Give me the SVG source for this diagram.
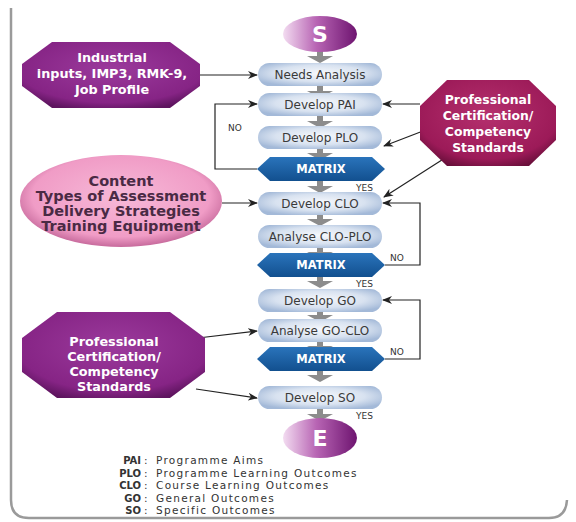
<svg xmlns="http://www.w3.org/2000/svg" width="576" height="522" viewBox="0 0 576 522">
<defs>
<linearGradient id="gTerm" x1="0" y1="0" x2="1" y2="0">
<stop offset="0" stop-color="#f3dcf1"/><stop offset="0.45" stop-color="#b865b4"/><stop offset="1" stop-color="#6e1470"/>
</linearGradient>
<radialGradient id="gBox" cx="0.5" cy="0.45" r="0.6">
<stop offset="0" stop-color="#f6f8fc"/><stop offset="0.6" stop-color="#d8e2f0"/><stop offset="1" stop-color="#a3b9d8"/>
</radialGradient>
<linearGradient id="gMat" x1="0" y1="0" x2="0" y2="1">
<stop offset="0" stop-color="#2a74bb"/><stop offset="1" stop-color="#12508f"/>
</linearGradient>
<radialGradient id="gPurple" cx="0.5" cy="0.4" r="0.65">
<stop offset="0" stop-color="#9b3a9c"/><stop offset="0.8" stop-color="#862485"/><stop offset="1" stop-color="#5e145f"/>
</radialGradient>
<radialGradient id="gCrim" cx="0.5" cy="0.4" r="0.65">
<stop offset="0" stop-color="#b5306e"/><stop offset="0.8" stop-color="#9c1a58"/><stop offset="1" stop-color="#6a0f3b"/>
</radialGradient>
<radialGradient id="gPink" cx="0.5" cy="0.45" r="0.55">
<stop offset="0" stop-color="#f7b9d8"/><stop offset="0.8" stop-color="#f09cc6"/><stop offset="1" stop-color="#c76a9c"/>
</radialGradient>
<marker id="ah" viewBox="0 0 10 8" refX="9" refY="4" markerWidth="10" markerHeight="8" markerUnits="userSpaceOnUse" orient="auto">
<path d="M0,0 L10,4 L0,8 L3,4 z" fill="#222"/>
</marker>
<g id="dn">
<rect x="-3" y="0" width="6" height="7" fill="#8c8c8c"/>
<polygon points="-13,5 13,5 0,12" fill="#8c8c8c"/>
</g>
</defs>
<style>
.box{fill:url(#gBox);}
.bt{font-family:"DejaVu Sans",sans-serif;font-size:12px;fill:#3a3a3a;text-anchor:middle;}
.mt{font-family:"DejaVu Sans",sans-serif;font-size:11.5px;font-weight:bold;fill:#fff;text-anchor:middle;}
.wt{font-family:"DejaVu Sans",sans-serif;font-size:12.8px;font-weight:bold;fill:#fff;text-anchor:middle;}
.wt2{font-family:"DejaVu Sans",sans-serif;font-size:12.4px;font-weight:bold;fill:#fff;text-anchor:middle;}
.ct{font-family:"DejaVu Sans",sans-serif;font-size:14.5px;font-weight:bold;fill:#4a2a44;text-anchor:middle;}
.lb{font-family:"DejaVu Sans",sans-serif;font-size:9px;fill:#333;}
.lg{font-family:"DejaVu Sans",sans-serif;font-size:10.5px;fill:#333;letter-spacing:1.3px;}
.lgb{font-family:"DejaVu Sans",sans-serif;font-size:10px;font-weight:bold;fill:#333;text-anchor:end;}
.cn{fill:none;stroke:#222;stroke-width:1.2;marker-end:url(#ah);}
.term{font-family:"DejaVu Sans",sans-serif;font-size:22px;font-weight:bold;fill:#fff;text-anchor:middle;}
</style>

<path d="M11,8 L11,500 Q11,518 29,518 L549,518 Q566,518 567,500" fill="none" stroke="#9a9a9a" stroke-width="2.5"/>

<g id="connectors">
<use href="#dn" x="320" y="51"/>
<use href="#dn" x="320" y="86"/>
<use href="#dn" x="320" y="116"/>
<use href="#dn" x="320" y="148"/>
<use href="#dn" x="320" y="181"/>
<use href="#dn" x="320" y="214"/>
<use href="#dn" x="320" y="247"/>
<use href="#dn" x="320" y="276"/>
<use href="#dn" x="320" y="310"/>
<use href="#dn" x="320" y="341"/>
<use href="#dn" x="320" y="370"/>
<use href="#dn" x="320" y="409"/>
<path class="cn" d="M200,75 L257,75"/>
<path class="cn" d="M257,169 L215,169 L215,104 L257,104"/>
<path class="cn" d="M420,104 L383,104"/>
<path class="cn" d="M423,131 L384,146"/>
<path class="cn" d="M445,158 L384,197"/>
<path class="cn" d="M222,203 L257,203"/>
<path class="cn" d="M385,265 L420,265 L420,203 L383,203"/>
<path class="cn" d="M385,359 L420,359 L420,300 L383,300"/>
<path class="cn" d="M198,338 L257,331"/>
<path class="cn" d="M196,389 L257,398"/>
<text class="lb" x="228" y="131">NO</text>
<text class="lb" x="390" y="261">NO</text>
<text class="lb" x="390" y="355">NO</text>
<text class="lb" x="356" y="191">YES</text>
<text class="lb" x="356" y="287">YES</text>
<text class="lb" x="356" y="419">YES</text>
</g>

<g id="start">
<ellipse cx="320" cy="34" rx="37" ry="18" fill="url(#gTerm)"/>
<text class="term" x="320" y="42">S</text>
</g>
<g id="needs">
<rect class="box" x="258" y="63" width="124" height="23" rx="11.5"/>
<text class="bt" x="320" y="79">Needs Analysis</text>
</g>
<g id="pai">
<rect class="box" x="258" y="93" width="124" height="23" rx="11.5"/>
<text class="bt" x="320" y="109">Develop PAI</text>
</g>
<g id="plo">
<rect class="box" x="258" y="126" width="124" height="23" rx="11.5"/>
<text class="bt" x="320" y="142">Develop PLO</text>
</g>
<g id="matrix1">
<polygon points="257,169 270,157 372,157 385,169 372,181 270,181" fill="url(#gMat)"/>
<text class="mt" x="321" y="173">MATRIX</text>
</g>
<g id="clo">
<rect class="box" x="258" y="192" width="124" height="23" rx="11.5"/>
<text class="bt" x="320" y="208">Develop CLO</text>
</g>
<g id="cloplo">
<rect class="box" x="258" y="225" width="124" height="23" rx="11.5"/>
<text class="bt" x="320" y="241">Analyse CLO-PLO</text>
</g>
<g id="matrix2">
<polygon points="257,265 270,253 372,253 385,265 372,277 270,277" fill="url(#gMat)"/>
<text class="mt" x="321" y="269">MATRIX</text>
</g>
<g id="go">
<rect class="box" x="258" y="289" width="124" height="23" rx="11.5"/>
<text class="bt" x="320" y="305">Develop GO</text>
</g>
<g id="goclo">
<rect class="box" x="258" y="319" width="124" height="23" rx="11.5"/>
<text class="bt" x="320" y="335">Analyse GO-CLO</text>
</g>
<g id="matrix3">
<polygon points="257,359 270,347 372,347 385,359 372,371 270,371" fill="url(#gMat)"/>
<text class="mt" x="321" y="363">MATRIX</text>
</g>
<g id="so">
<rect class="box" x="258" y="386" width="124" height="23" rx="11.5"/>
<text class="bt" x="320" y="402">Develop SO</text>
</g>
<g id="end">
<ellipse cx="320" cy="438" rx="37" ry="20" fill="url(#gTerm)"/>
<text class="term" x="320" y="446">E</text>
</g>

<g id="industrial">
<polygon points="52,42 170,42 200,64 200,86 170,108 52,108 22,86 22,64" fill="url(#gPurple)"/>
<text class="wt" x="112" y="62">Industrial</text>
<text class="wt" x="112" y="78">inputs, IMP3, RMK-9,</text>
<text class="wt" x="112" y="94">Job Profile</text>
</g>
<g id="profcert1">
<polygon points="447,80 529,80 556,106 556,140 529,166 447,166 420,140 420,106" fill="url(#gCrim)"/>
<text class="wt2" x="488" y="104">Professional</text>
<text class="wt2" x="488" y="120">Certification/</text>
<text class="wt2" x="488" y="136">Competency</text>
<text class="wt2" x="488" y="152">Standards</text>
</g>
<g id="content">
<ellipse cx="121" cy="201" rx="101" ry="46" fill="url(#gPink)"/>
<text class="ct" x="121" y="186">Content</text>
<text class="ct" x="121" y="201">Types of Assessment</text>
<text class="ct" x="121" y="216">Delivery Strategies</text>
<text class="ct" x="121" y="231">Training Equipment</text>
</g>
<g id="profcert2">
<polygon points="57,312 170,312 205,338 205,372 170,398 57,398 22,372 22,338" fill="url(#gPurple)"/>
<text class="wt" x="114" y="346">Professional</text>
<text class="wt" x="114" y="361">Certification/</text>
<text class="wt" x="114" y="376">Competency</text>
<text class="wt" x="114" y="391">Standards</text>
</g>

<g id="legend">
<text class="lgb" x="141" y="464">PAI</text><text class="lg" x="144" y="464">:</text><text class="lg" x="156" y="464">Programme Aims</text>
<text class="lgb" x="141" y="476.5">PLO</text><text class="lg" x="144" y="476.5">:</text><text class="lg" x="156" y="476.5">Programme Learning Outcomes</text>
<text class="lgb" x="141" y="489">CLO</text><text class="lg" x="144" y="489">:</text><text class="lg" x="156" y="489">Course Learning Outcomes</text>
<text class="lgb" x="141" y="501.5">GO</text><text class="lg" x="144" y="501.5">:</text><text class="lg" x="156" y="501.5">General Outcomes</text>
<text class="lgb" x="141" y="514">SO</text><text class="lg" x="144" y="514">:</text><text class="lg" x="156" y="514">Specific Outcomes</text>
</g>
</svg>
